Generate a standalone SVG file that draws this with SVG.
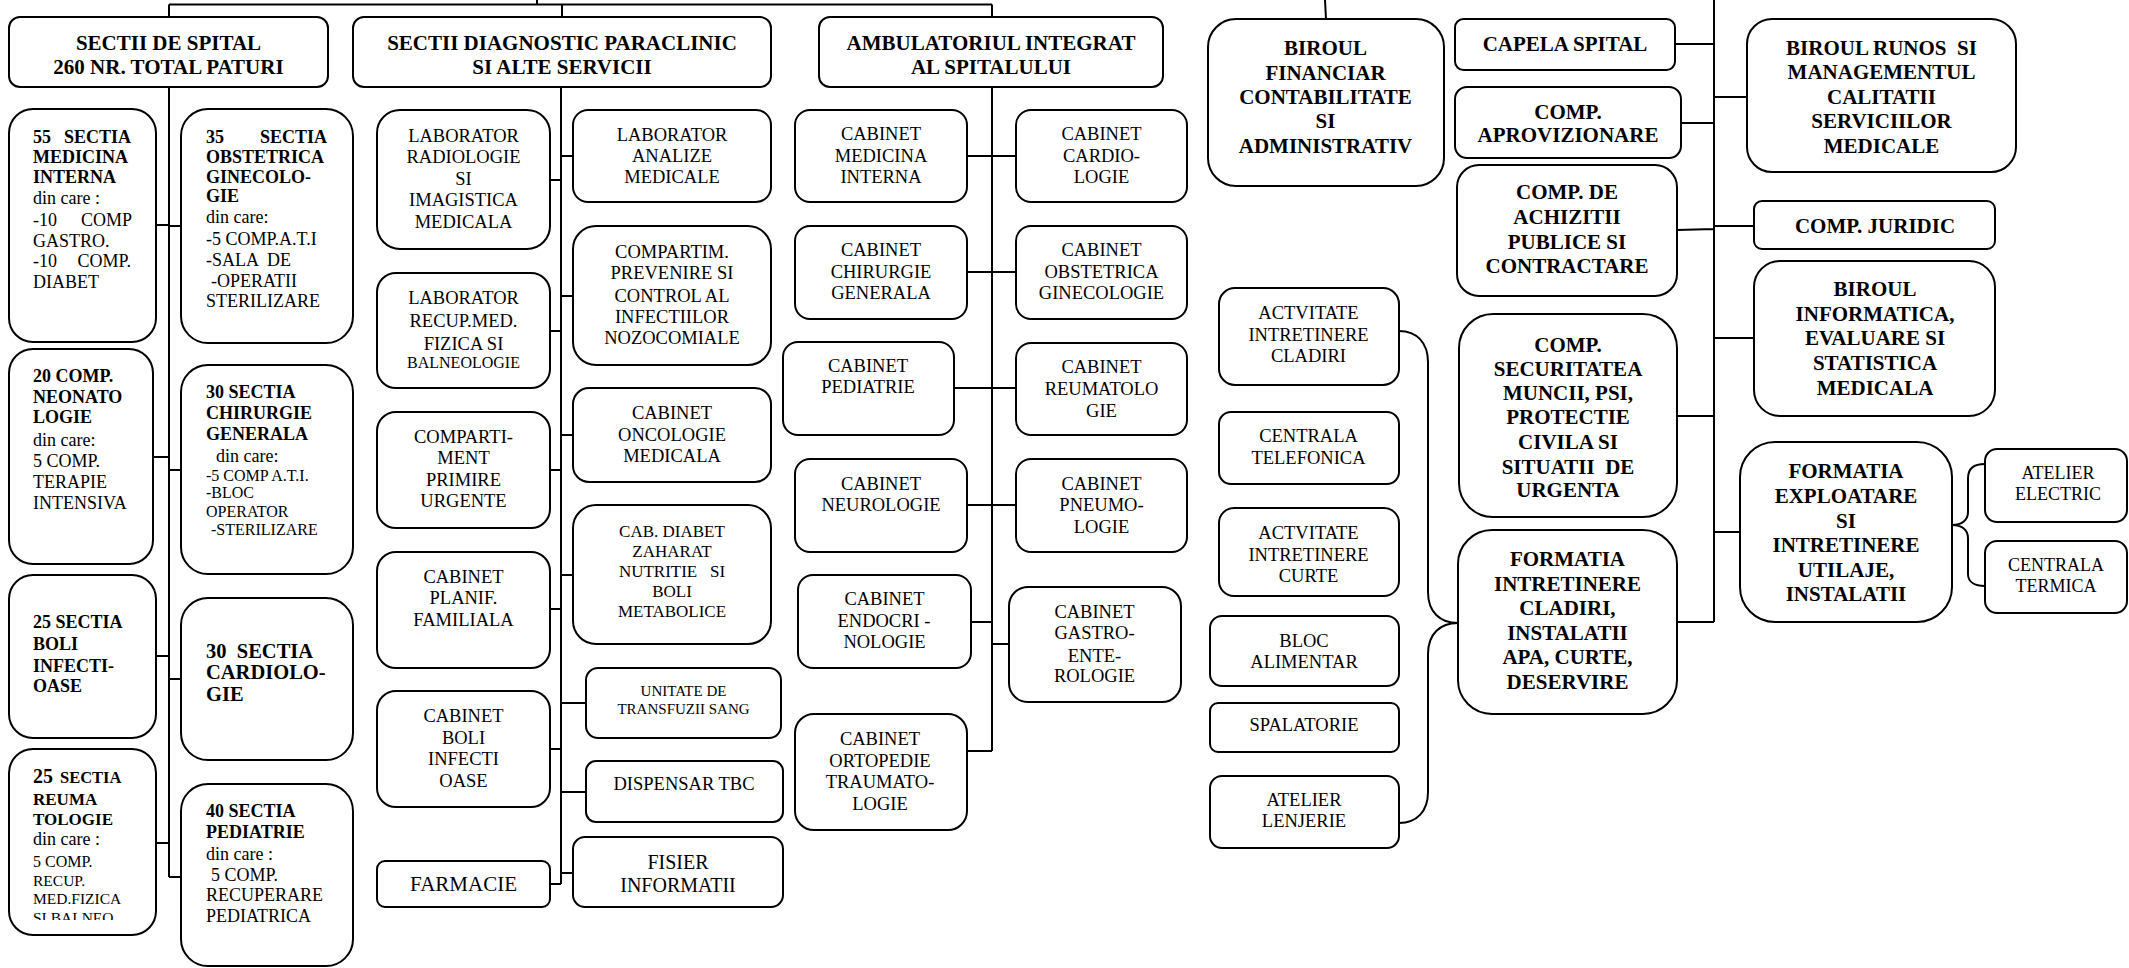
<svg xmlns="http://www.w3.org/2000/svg" width="2129" height="968" viewBox="0 0 2129 968">
<style>
.n rect{fill:#fff;stroke:#000;stroke-width:2}
text{font-family:"Liberation Serif","Times New Roman",serif;fill:#000}
.b{font-weight:bold}
.c{text-anchor:middle}
.e{text-anchor:end}
.h{font-size:21px;font-weight:bold;text-anchor:middle}
.f18{font-size:18px}
.f185{font-size:18.5px}
.f16{font-size:16px}
.f15{font-size:15.5px}
.f17{font-size:17px}
.f20{font-size:20.5px}
#connectors path{fill:none;stroke:#000;stroke-width:2}
</style>
<defs>
<clipPath id="clipA4"><rect x="9" y="749" width="147" height="171"/></clipPath>
</defs>
<g id="connectors">
<path d="M537,0 V4.5 M169,4.5 H992 M169,4.5 V17 M562,4.5 V17 M992,4.5 V17"/>
<path d="M1325,0 L1326,19"/>
<path d="M169,87 V877 M156,225 H169 M153,457 H169 M156,656 H169 M156,843 H169 M169,226 H181 M169,470 H181 M169,679 H181 M169,877 H181"/>
<path d="M561,87 V884 M550,180 H561 M550,331 H561 M550,470 H561 M550,609 H561 M550,749 H561 M550,884 H561 M561,156 H573 M561,296 H573 M561,435 H573 M561,575 H573 M561,703 H586 M561,792 H586 M561,873 H573"/>
<path d="M992,87 V751 M992,86 H1016 V82 M967,156 H1016 M967,272 H1016 M954,388 H1016 M967,505 H1016 M971,622 H992 M992,644 H1009 M967,751 H992"/>
<path d="M1714,0 V622 M1675,44 H1714 M1714,97 H1747 M1681,123 H1714 M1677,230 L1714,229 M1714,226 H1754 M1714,338 H1754 M1677,416 H1714 M1714,532 H1740 M1677,622 H1714"/>
<path d="M1399,331 C1417,331 1428,343 1428,362 V592 C1428,612 1440,623 1458,623 C1440,623 1428,634 1428,654 V792 C1428,811 1417,823 1399,823"/>
<path d="M1985,464 C1975,464 1968,468 1968,478 V512 C1968,520 1962,525 1952,525 C1962,525 1968,530 1968,538 V574 C1968,582 1975,586 1985,586"/>
</g>

<g id="n-sectii-spital" class="n"><rect x="9" y="17" width="319" height="70" rx="11"/>
<text class="h"><tspan x="168.5" y="50">SECTII DE SPITAL</tspan><tspan x="168.5" y="74">260 NR. TOTAL PATURI</tspan></text></g>
<g id="n-sectii-diagnostic" class="n"><rect x="353" y="17" width="418" height="70" rx="11"/>
<text class="h"><tspan x="562" y="50">SECTII DIAGNOSTIC PARACLINIC</tspan><tspan x="562" y="74">SI ALTE SERVICII</tspan></text></g>
<g id="n-ambulatoriu" class="n"><rect x="819" y="17" width="344" height="70" rx="11"/>
<text class="h"><tspan x="991" y="50">AMBULATORIUL INTEGRAT</tspan><tspan x="991" y="74">AL SPITALULUI</tspan></text></g>

<g id="n-medicina-interna" class="n"><rect x="9" y="109" width="147" height="233" rx="24"/>
<text class="f18"><tspan class="b" x="33" y="143">55</tspan><tspan class="b" x="33" y="163">MEDICINA</tspan><tspan class="b" x="33" y="183">INTERNA</tspan><tspan x="33" y="204">din care :</tspan><tspan x="33" y="226">-10</tspan><tspan x="33" y="247">GASTRO.</tspan><tspan x="33" y="267">-10</tspan><tspan x="33" y="288">DIABET</tspan></text>
<text class="f18 e"><tspan class="b" x="131" y="143">SECTIA</tspan><tspan x="132" y="226">COMP</tspan><tspan x="131" y="267">COMP.</tspan></text></g>

<g id="n-obstetrica" class="n"><rect x="181" y="109" width="172" height="234" rx="27"/>
<text class="f18" xml:space="preserve"><tspan class="b" x="206" y="143">35</tspan><tspan class="b" x="206" y="163">OBSTETRICA</tspan><tspan class="b" x="206" y="183">GINECOLO-</tspan><tspan class="b" x="206" y="202">GIE</tspan><tspan x="206" y="223">din care:</tspan><tspan x="206" y="245">-5 COMP.A.T.I</tspan><tspan x="206" y="266">-SALA  DE</tspan><tspan x="211" y="287">-OPERATII</tspan><tspan x="206" y="307">STERILIZARE</tspan></text>
<text class="f18 e b"><tspan x="327" y="143">SECTIA</tspan></text></g>

<g id="n-neonatologie" class="n"><rect x="9" y="349" width="144" height="215" rx="24"/>
<text class="f18"><tspan class="b" x="33" y="382">20 COMP.</tspan><tspan class="b" x="33" y="403">NEONATO</tspan><tspan class="b" x="33" y="423">LOGIE</tspan><tspan x="33" y="446">din care:</tspan><tspan x="33" y="467">5 COMP.</tspan><tspan x="33" y="488">TERAPIE</tspan><tspan x="33" y="509">INTENSIVA</tspan></text></g>

<g id="n-chirurgie" class="n"><rect x="181" y="365" width="172" height="209" rx="27"/>
<text class="f18"><tspan class="b" x="206" y="398">30 SECTIA</tspan><tspan class="b" x="206" y="419">CHIRURGIE</tspan><tspan class="b" x="206" y="440">GENERALA</tspan><tspan x="216" y="462">din care:</tspan></text>
<text class="f16"><tspan x="206" y="481">-5 COMP A.T.I.</tspan><tspan x="206" y="498">-BLOC</tspan><tspan x="206" y="517">OPERATOR</tspan><tspan x="211" y="535">-STERILIZARE</tspan></text></g>

<g id="n-boli-infectioase" class="n"><rect x="9" y="575" width="147" height="163" rx="24"/>
<text class="f18 b"><tspan x="33" y="628">25 SECTIA</tspan><tspan x="33" y="650">BOLI</tspan><tspan x="33" y="672">INFECTI-</tspan><tspan x="33" y="692">OASE</tspan></text></g>

<g id="n-cardiologie" class="n"><rect x="181" y="598" width="172" height="162" rx="27"/>
<text class="f20 b" xml:space="preserve"><tspan x="206" y="658">30  SECTIA</tspan><tspan x="206" y="679">CARDIOLO-</tspan><tspan x="206" y="701">GIE</tspan></text></g>

<g id="n-reumatologie" class="n"><rect x="9" y="749" width="147" height="186" rx="24"/>
<g clip-path="url(#clipA4)">
<text class="b"><tspan x="33" y="783" font-size="20">25</tspan><tspan x="60" y="783" font-size="16.5">SECTIA</tspan><tspan x="33" y="805" font-size="17">REUMA</tspan><tspan x="33" y="825" font-size="17">TOLOGIE</tspan></text>
<text class="f18"><tspan x="33" y="845">din care :</tspan></text>
<text class="f15"><tspan x="33" y="867" font-size="16">5 COMP.</tspan><tspan x="33" y="886">RECUP.</tspan><tspan x="33" y="904">MED.FIZICA</tspan><tspan x="33" y="923">SI BALNEO</tspan></text>
</g></g>

<g id="n-pediatrie" class="n"><rect x="181" y="784" width="172" height="182" rx="27"/>
<text class="f18"><tspan class="b" x="206" y="817">40 SECTIA</tspan><tspan class="b" x="206" y="838">PEDIATRIE</tspan><tspan x="206" y="860">din care :</tspan><tspan x="211" y="881">5 COMP.</tspan><tspan x="206" y="901">RECUPERARE</tspan><tspan x="206" y="922">PEDIATRICA</tspan></text></g>

<g id="n-lab-radiologie" class="n"><rect x="377" y="110" width="173" height="139" rx="23"/>
<text class="f185 c"><tspan x="463.5" y="142">LABORATOR</tspan><tspan x="463.5" y="163">RADIOLOGIE</tspan><tspan x="463.5" y="185">SI</tspan><tspan x="463.5" y="206">IMAGISTICA</tspan><tspan x="463.5" y="228">MEDICALA</tspan></text></g>
<g id="n-lab-recup" class="n"><rect x="377" y="273" width="173" height="115" rx="19"/>
<text class="f185 c"><tspan x="463.5" y="304">LABORATOR</tspan><tspan x="463.5" y="327">RECUP.MED.</tspan><tspan x="463.5" y="350">FIZICA SI</tspan><tspan x="463.5" y="368" font-size="16">BALNEOLOGIE</tspan></text></g>
<g id="n-primire-urgente" class="n"><rect x="377" y="412" width="173" height="116" rx="19"/>
<text class="f185 c"><tspan x="463.5" y="443">COMPARTI-</tspan><tspan x="463.5" y="464">MENT</tspan><tspan x="463.5" y="486">PRIMIRE</tspan><tspan x="463.5" y="507">URGENTE</tspan></text></g>
<g id="n-planif-familiala" class="n"><rect x="377" y="552" width="173" height="116" rx="19"/>
<text class="f185 c"><tspan x="463.5" y="583">CABINET</tspan><tspan x="463.5" y="604">PLANIF.</tspan><tspan x="463.5" y="626">FAMILIALA</tspan></text></g>
<g id="n-cab-boli-infectioase" class="n"><rect x="377" y="691" width="173" height="116" rx="19"/>
<text class="f185 c"><tspan x="463.5" y="722">CABINET</tspan><tspan x="463.5" y="744">BOLI</tspan><tspan x="463.5" y="765">INFECTI</tspan><tspan x="463.5" y="787">OASE</tspan></text></g>
<g id="n-farmacie" class="n"><rect x="377" y="861" width="173" height="46" rx="8"/>
<text class="c" font-size="21"><tspan x="463.5" y="891">FARMACIE</tspan></text></g>

<g id="n-lab-analize" class="n"><rect x="573" y="110" width="198" height="92" rx="15"/>
<text class="f185 c"><tspan x="672" y="141">LABORATOR</tspan><tspan x="672" y="162">ANALIZE</tspan><tspan x="672" y="183">MEDICALE</tspan></text></g>
<g id="n-prevenire-infectii" class="n"><rect x="573" y="226" width="198" height="139" rx="23"/>
<text class="f185 c"><tspan x="672" y="258">COMPARTIM.</tspan><tspan x="672" y="279">PREVENIRE SI</tspan><tspan x="672" y="302">CONTROL AL</tspan><tspan x="672" y="323">INFECTIILOR</tspan><tspan x="672" y="344">NOZOCOMIALE</tspan></text></g>
<g id="n-oncologie" class="n"><rect x="573" y="388" width="198" height="94" rx="16"/>
<text class="f185 c"><tspan x="672" y="419">CABINET</tspan><tspan x="672" y="441">ONCOLOGIE</tspan><tspan x="672" y="462">MEDICALA</tspan></text></g>
<g id="n-diabet" class="n"><rect x="573" y="505" width="198" height="139" rx="23"/>
<text class="f17 c" xml:space="preserve"><tspan x="672" y="537">CAB. DIABET</tspan><tspan x="672" y="557">ZAHARAT</tspan><tspan x="672" y="577">NUTRITIE   SI</tspan><tspan x="672" y="597">BOLI</tspan><tspan x="672" y="617">METABOLICE</tspan></text></g>
<g id="n-transfuzii" class="n"><rect x="586" y="668" width="195" height="70" rx="12"/>
<text class="c" font-size="15"><tspan x="683.5" y="696">UNITATE DE</tspan><tspan x="683.5" y="714">TRANSFUZII SANG</tspan></text></g>
<g id="n-dispensar-tbc" class="n"><rect x="586" y="761" width="197" height="61" rx="10"/>
<text class="f185 c"><tspan x="684" y="790">DISPENSAR TBC</tspan></text></g>
<g id="n-fisier" class="n"><rect x="573" y="837" width="210" height="70" rx="12"/>
<text class="c" font-size="20"><tspan x="678" y="869">FISIER</tspan><tspan x="678" y="892">INFORMATII</tspan></text></g>

<g id="n-cab-medicina-interna" class="n"><rect x="795" y="110" width="172" height="92" rx="15"/>
<text class="f185 c"><tspan x="881" y="140">CABINET</tspan><tspan x="881" y="162">MEDICINA</tspan><tspan x="881" y="183">INTERNA</tspan></text></g>
<g id="n-cab-chirurgie" class="n"><rect x="795" y="226" width="172" height="93" rx="15"/>
<text class="f185 c"><tspan x="881" y="256">CABINET</tspan><tspan x="881" y="278">CHIRURGIE</tspan><tspan x="881" y="299">GENERALA</tspan></text></g>
<g id="n-cab-pediatrie" class="n"><rect x="783" y="342" width="171" height="93" rx="15"/>
<text class="f185 c"><tspan x="868" y="372">CABINET</tspan><tspan x="868" y="393">PEDIATRIE</tspan></text></g>
<g id="n-cab-neurologie" class="n"><rect x="795" y="459" width="172" height="93" rx="15"/>
<text class="f185 c"><tspan x="881" y="490">CABINET</tspan><tspan x="881" y="511">NEUROLOGIE</tspan></text></g>
<g id="n-cab-endocrinologie" class="n"><rect x="798" y="575" width="173" height="93" rx="15"/>
<text class="f185 c"><tspan x="884.5" y="605">CABINET</tspan><tspan x="884" y="627">ENDOCRI -</tspan><tspan x="884.5" y="648">NOLOGIE</tspan></text></g>
<g id="n-cab-ortopedie" class="n"><rect x="795" y="714" width="172" height="116" rx="19"/>
<text class="f185 c"><tspan x="880" y="745">CABINET</tspan><tspan x="880" y="767">ORTOPEDIE</tspan><tspan x="880" y="788">TRAUMATO-</tspan><tspan x="880" y="810">LOGIE</tspan></text></g>

<g id="n-cab-cardiologie" class="n"><rect x="1016" y="110" width="171" height="92" rx="15"/>
<text class="f185 c"><tspan x="1101.5" y="140">CABINET</tspan><tspan x="1101.5" y="162">CARDIO-</tspan><tspan x="1101.5" y="183">LOGIE</tspan></text></g>
<g id="n-cab-obstetrica" class="n"><rect x="1016" y="226" width="171" height="93" rx="15"/>
<text class="f185 c"><tspan x="1101.5" y="256">CABINET</tspan><tspan x="1101.5" y="278">OBSTETRICA</tspan><tspan x="1101.5" y="299">GINECOLOGIE</tspan></text></g>
<g id="n-cab-reumatologie" class="n"><rect x="1016" y="343" width="171" height="92" rx="15"/>
<text class="f185 c"><tspan x="1101.5" y="373">CABINET</tspan><tspan x="1101.5" y="395">REUMATOLO</tspan><tspan x="1101.5" y="417">GIE</tspan></text></g>
<g id="n-cab-pneumologie" class="n"><rect x="1016" y="459" width="171" height="93" rx="15"/>
<text class="f185 c"><tspan x="1101.5" y="490">CABINET</tspan><tspan x="1101.5" y="511">PNEUMO-</tspan><tspan x="1101.5" y="533">LOGIE</tspan></text></g>
<g id="n-cab-gastro" class="n"><rect x="1009" y="587" width="172" height="115" rx="19"/>
<text class="f185 c"><tspan x="1094.5" y="618">CABINET</tspan><tspan x="1094.5" y="639">GASTRO-</tspan><tspan x="1094.5" y="662">ENTE-</tspan><tspan x="1094.5" y="682">ROLOGIE</tspan></text></g>

<g id="n-biroul-financiar" class="n"><rect x="1208" y="19" width="236" height="167" rx="28"/>
<text class="h"><tspan x="1325.5" y="55">BIROUL</tspan><tspan x="1325.5" y="80">FINANCIAR</tspan><tspan x="1325.5" y="104">CONTABILITATE</tspan><tspan x="1325.5" y="128">SI</tspan><tspan x="1325.5" y="153">ADMINISTRATIV</tspan></text></g>
<g id="n-capela" class="n"><rect x="1455" y="19" width="220" height="51" rx="8.5"/>
<text class="h"><tspan x="1565" y="51">CAPELA SPITAL</tspan></text></g>
<g id="n-aprovizionare" class="n"><rect x="1455" y="87" width="226" height="71" rx="12"/>
<text class="h"><tspan x="1568" y="119">COMP.</tspan><tspan x="1568" y="142">APROVIZIONARE</tspan></text></g>
<g id="n-achizitii" class="n"><rect x="1457" y="165" width="220" height="131" rx="22"/>
<text class="h"><tspan x="1567" y="199">COMP. DE</tspan><tspan x="1567" y="224">ACHIZITII</tspan><tspan x="1567" y="249">PUBLICE SI</tspan><tspan x="1567" y="273">CONTRACTARE</tspan></text></g>
<g id="n-securitatea" class="n"><rect x="1459" y="314" width="218" height="203" rx="34"/>
<text class="h" xml:space="preserve"><tspan x="1568" y="352">COMP.</tspan><tspan x="1568" y="376">SECURITATEA</tspan><tspan x="1568" y="400">MUNCII, PSI,</tspan><tspan x="1568" y="424">PROTECTIE</tspan><tspan x="1568" y="449">CIVILA SI</tspan><tspan x="1568" y="474">SITUATII  DE</tspan><tspan x="1568" y="497">URGENTA</tspan></text></g>
<g id="n-formatia-intretinere" class="n"><rect x="1458" y="530" width="219" height="184" rx="34"/>
<text class="h"><tspan x="1567.5" y="566">FORMATIA</tspan><tspan x="1567.5" y="591">INTRETINERE</tspan><tspan x="1567.5" y="615">CLADIRI,</tspan><tspan x="1567.5" y="640">INSTALATII</tspan><tspan x="1567.5" y="664">APA, CURTE,</tspan><tspan x="1567.5" y="689">DESERVIRE</tspan></text></g>

<g id="n-act-cladiri" class="n"><rect x="1219" y="288" width="180" height="97" rx="16"/>
<text class="f185 c"><tspan x="1308.5" y="319">ACTVITATE</tspan><tspan x="1308.5" y="341">INTRETINERE</tspan><tspan x="1308.5" y="362">CLADIRI</tspan></text></g>
<g id="n-centrala-telefonica" class="n"><rect x="1219" y="412" width="180" height="72" rx="12"/>
<text class="f185 c"><tspan x="1308.5" y="442">CENTRALA</tspan><tspan x="1308.5" y="464">TELEFONICA</tspan></text></g>
<g id="n-act-curte" class="n"><rect x="1219" y="508" width="180" height="88" rx="15"/>
<text class="f185 c"><tspan x="1308.5" y="539">ACTVITATE</tspan><tspan x="1308.5" y="561">INTRETINERE</tspan><tspan x="1308.5" y="582">CURTE</tspan></text></g>
<g id="n-bloc-alimentar" class="n"><rect x="1210" y="616" width="189" height="70" rx="12"/>
<text class="f185 c"><tspan x="1304" y="647">BLOC</tspan><tspan x="1304" y="668">ALIMENTAR</tspan></text></g>
<g id="n-spalatorie" class="n"><rect x="1210" y="703" width="189" height="49" rx="8"/>
<text class="f185 c"><tspan x="1304" y="731">SPALATORIE</tspan></text></g>
<g id="n-atelier-lenjerie" class="n"><rect x="1210" y="776" width="189" height="72" rx="12"/>
<text class="f185 c"><tspan x="1304" y="806">ATELIER</tspan><tspan x="1304" y="827">LENJERIE</tspan></text></g>

<g id="n-runos" class="n"><rect x="1747" y="19" width="269" height="153" rx="25"/>
<text class="h" xml:space="preserve"><tspan x="1881.5" y="55">BIROUL RUNOS  SI</tspan><tspan x="1881.5" y="79">MANAGEMENTUL</tspan><tspan x="1881.5" y="104">CALITATII</tspan><tspan x="1881.5" y="128">SERVICIILOR</tspan><tspan x="1881.5" y="153">MEDICALE</tspan></text></g>
<g id="n-juridic" class="n"><rect x="1754" y="201" width="241" height="48" rx="8"/>
<text class="h"><tspan x="1875" y="233">COMP. JURIDIC</tspan></text></g>
<g id="n-informatica" class="n"><rect x="1754" y="261" width="241" height="155" rx="26"/>
<text class="h"><tspan x="1875" y="296">BIROUL</tspan><tspan x="1875" y="321">INFORMATICA,</tspan><tspan x="1875" y="345">EVALUARE SI</tspan><tspan x="1875" y="370">STATISTICA</tspan><tspan x="1875" y="395">MEDICALA</tspan></text></g>
<g id="n-formatia-exploatare" class="n"><rect x="1740" y="442" width="212" height="180" rx="35"/>
<text class="h"><tspan x="1846" y="478">FORMATIA</tspan><tspan x="1846" y="503">EXPLOATARE</tspan><tspan x="1846" y="528">SI</tspan><tspan x="1846" y="552">INTRETINERE</tspan><tspan x="1846" y="577">UTILAJE,</tspan><tspan x="1846" y="601">INSTALATII</tspan></text></g>
<g id="n-atelier-electric" class="n"><rect x="1985" y="449" width="142" height="73" rx="12"/>
<text class="f18 c"><tspan x="2058" y="479">ATELIER</tspan><tspan x="2058" y="500">ELECTRIC</tspan></text></g>
<g id="n-centrala-termica" class="n"><rect x="1985" y="541" width="142" height="72" rx="12"/>
<text class="f18 c"><tspan x="2056" y="571">CENTRALA</tspan><tspan x="2056" y="592">TERMICA</tspan></text></g>
</svg>
